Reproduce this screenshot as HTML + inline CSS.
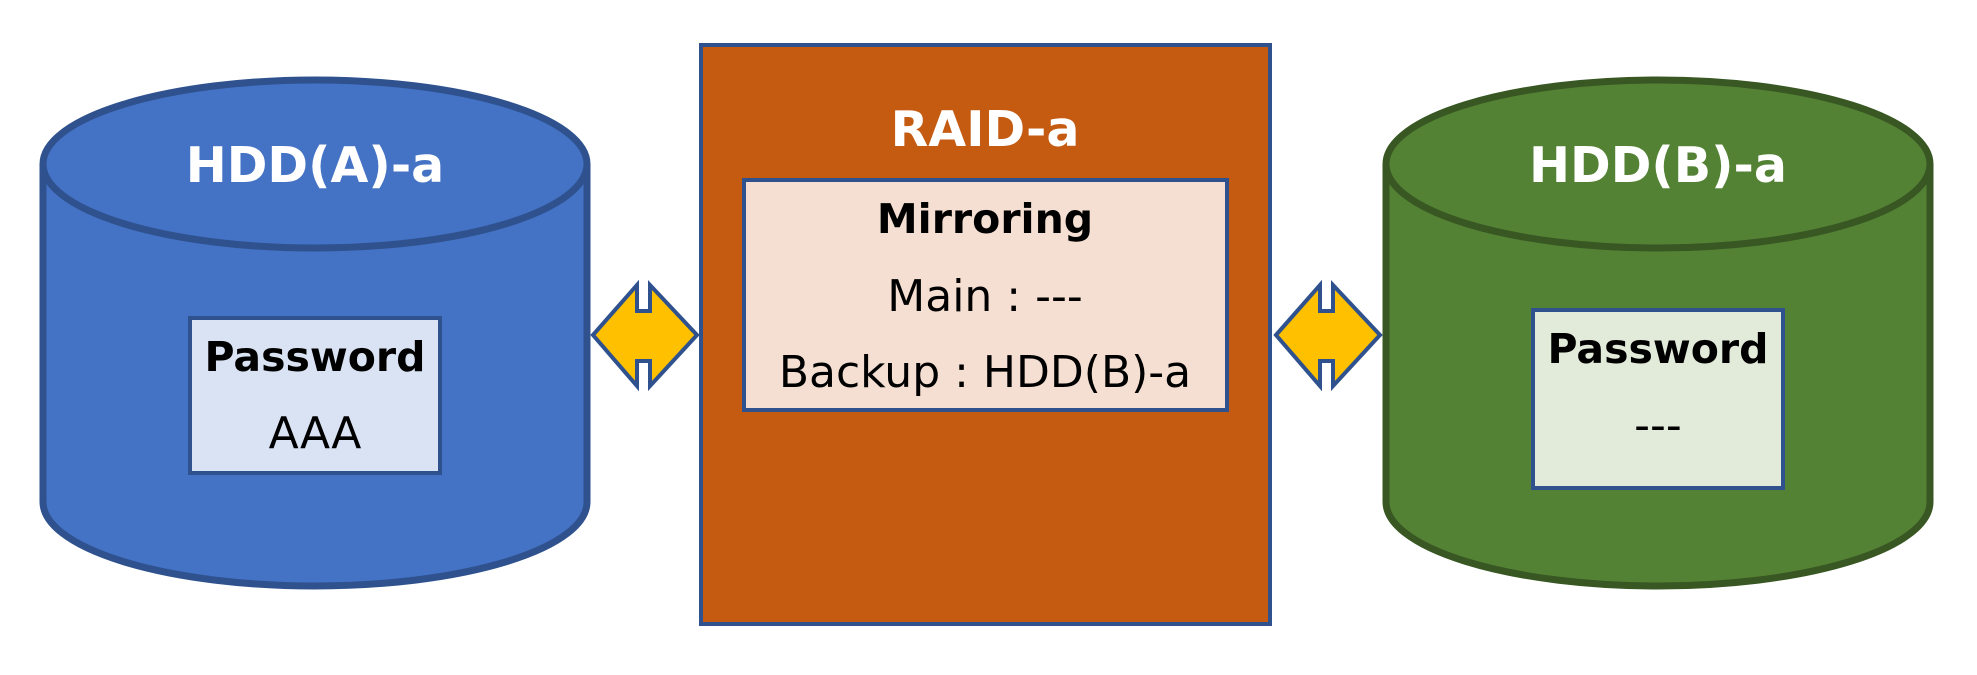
<!DOCTYPE html>
<html><head><meta charset="utf-8"><style>html,body{margin:0;padding:0;background:#fff}</style></head>
<body>
<svg width="1977" height="670" viewBox="0 0 1977 670" xmlns="http://www.w3.org/2000/svg" font-family="DejaVu Sans, Liberation Sans, sans-serif">
<rect width="1977" height="670" fill="#fff"/>
<!-- Left cylinder -->
<g stroke="#2F528F" stroke-width="7" fill="#4472C4">
<path d="M43,164 L43,502 A272,84 0 0 0 587,502 L587,164"/>
<ellipse cx="315" cy="164" rx="272" ry="84"/>
</g>
<text x="315" y="182" font-size="49" font-weight="bold" fill="#fff" text-anchor="middle">HDD(A)-a</text>
<rect x="190" y="318" width="250" height="155" fill="#DAE3F3" stroke="#2F528F" stroke-width="4"/>
<text x="315" y="371" font-size="41" font-weight="bold" text-anchor="middle">Password</text>
<text x="315" y="448" font-size="44" text-anchor="middle">AAA</text>
<!-- Right cylinder -->
<g stroke="#385723" stroke-width="7" fill="#548235">
<path d="M1386,164 L1386,502 A272,84 0 0 0 1930,502 L1930,164"/>
<ellipse cx="1658" cy="164" rx="272" ry="84"/>
</g>
<text x="1658" y="182" font-size="49" font-weight="bold" fill="#fff" text-anchor="middle">HDD(B)-a</text>
<rect x="1533" y="310" width="250" height="178" fill="#E2EBDA" stroke="#2F528F" stroke-width="4"/>
<text x="1658" y="363" font-size="41" font-weight="bold" text-anchor="middle">Password</text>
<text x="1658" y="440" font-size="44" text-anchor="middle">---</text>
<!-- RAID -->
<rect x="701" y="45" width="569" height="579" fill="#C55A11" stroke="#2F528F" stroke-width="4"/>
<text x="985" y="146" font-size="49" font-weight="bold" fill="#fff" text-anchor="middle">RAID-a</text>
<rect x="744" y="180" width="483" height="230" fill="#F4DFD2" stroke="#2F528F" stroke-width="4"/>
<text x="985" y="233" font-size="41" font-weight="bold" text-anchor="middle">Mirroring</text>
<text x="985" y="311" font-size="44" text-anchor="middle">Main : ---</text>
<text x="985" y="387" font-size="44" text-anchor="middle">Backup : HDD(B)-a</text>
<!-- Arrows -->
<g fill="#FFC000" stroke="#2F528F" stroke-width="4" stroke-linejoin="miter">
<polygon points="593,335 637,285 637,311 650,311 650,285 697,335 650,386 650,361 637,361 637,386"/>
<polygon transform="translate(683,0)" points="593,335 637,285 637,311 650,311 650,285 697,335 650,386 650,361 637,361 637,386"/>
</g>
</svg>
</body></html>
